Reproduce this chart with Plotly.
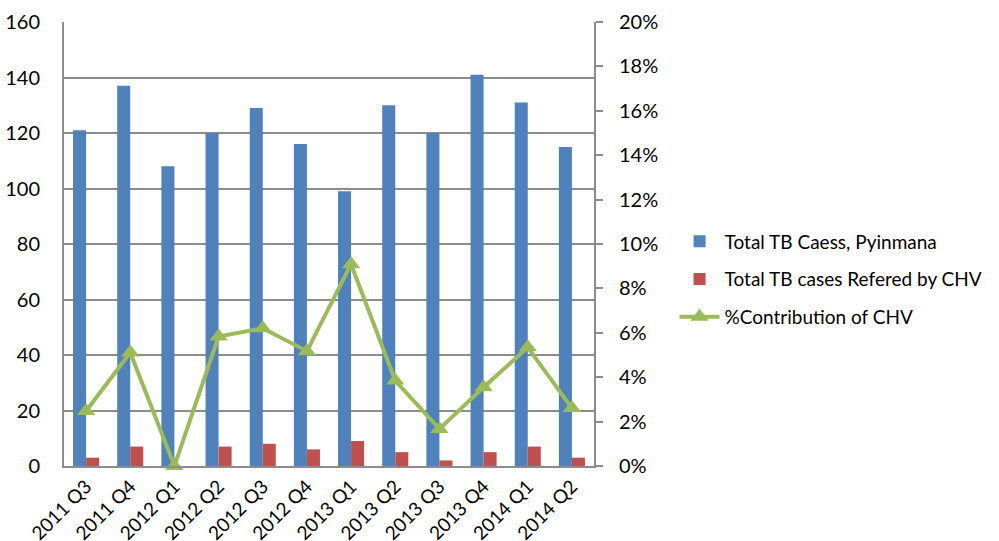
import plotly.graph_objects as go

quarters = ["2011 Q3", "2011 Q4", "2012 Q1", "2012 Q2", "2012 Q3", "2012 Q4",
            "2013 Q1", "2013 Q2", "2013 Q3", "2013 Q4", "2014 Q1", "2014 Q2"]
total_cases = [121, 137, 108, 120, 129, 116, 99, 130, 120, 141, 131, 115]
chv_referred = [3, 7, 0, 7, 8, 6, 9, 5, 2, 5, 7, 3]
chv_share = [r / t for r, t in zip(chv_referred, total_cases)]

left_ticks = list(range(0, 161, 20))
right_ticks = [i / 100 for i in range(0, 21, 2)]

FONT = "Lato, 'Open Sans', sans-serif"
GRID = "#8c8c8c"

fig = go.Figure()
fig.add_trace(go.Bar(x=quarters, y=total_cases, name="Total TB Caess, Pyinmana",
                     marker=dict(color="#4F81BD", line=dict(width=0)),
                     legendgroup="a"))
fig.add_trace(go.Bar(x=quarters, y=chv_referred, name="Total TB cases Refered by CHV",
                     marker=dict(color="#C0504D", line=dict(width=0)),
                     legendgroup="b"))
fig.add_trace(go.Scatter(x=quarters, y=chv_share, name="%Contribution of CHV",
                         yaxis="y2", mode="lines+markers",
                         line=dict(color="#9BBB59", width=4),
                         marker=dict(symbol="triangle-up", size=16, color="#9BBB59"),
                         legendgroup="c", cliponaxis=False))

fig.update_layout(
    width=999, height=541,
    margin=dict(l=64, r=403, t=22, b=75),
    paper_bgcolor="white", plot_bgcolor="white",
    font=dict(family=FONT, size=20, color="black"),
    barmode="group", bargap=0.41, bargroupgap=0,
    showlegend=True,
    legend=dict(x=1.152, y=0.42, xanchor="left", yanchor="middle",
                font=dict(size=19), tracegroupgap=10, itemwidth=40,
                bgcolor="rgba(0,0,0,0)"),
    xaxis=dict(range=[-0.5, 11.5], tickangle=-45, showline=True,
               linecolor=GRID, linewidth=2, ticks="", tickfont=dict(size=19),
               showgrid=False, automargin=False),
    yaxis=dict(range=[0, 160], tickvals=left_ticks, showgrid=True,
               gridcolor=GRID, gridwidth=1.5, showline=True, linecolor=GRID,
               linewidth=2, ticks="", ticklabelstandoff=18, zeroline=False,
               automargin=False),
    yaxis2=dict(range=[0, 0.2], tickvals=right_ticks, tickformat=".0%",
                overlaying="y", side="right", showgrid=False, showline=True,
                linecolor=GRID, linewidth=2, ticks="outside", ticklen=7,
                tickcolor=GRID, tickwidth=2, ticklabelstandoff=12,
                zeroline=False, automargin=False),
)

fig.write_html("out.html")
